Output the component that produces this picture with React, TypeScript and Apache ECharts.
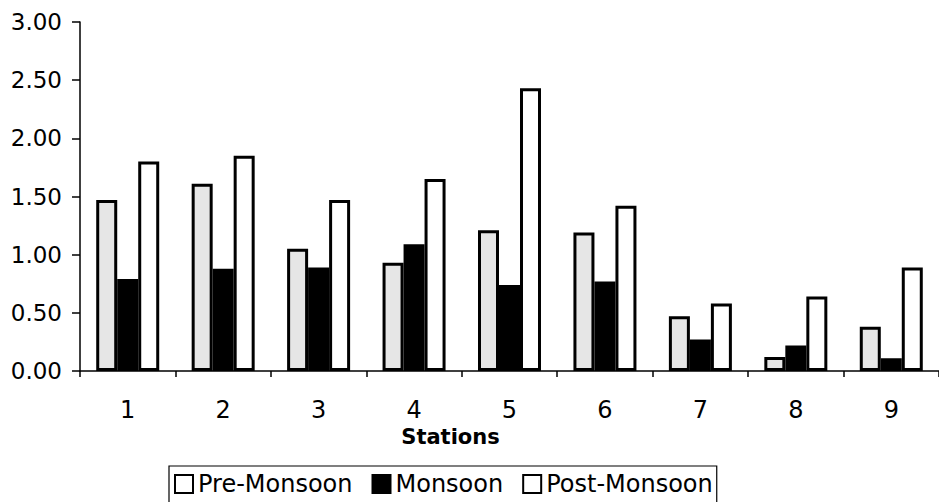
import React, { useEffect, useRef } from "react";
import * as echarts from "echarts";

const stations = ["1", "2", "3", "4", "5", "6", "7", "8", "9"];
const preMonsoon = [1.47, 1.61, 1.05, 0.93, 1.21, 1.19, 0.47, 0.12, 0.38];
const monsoon = [0.79, 0.88, 0.89, 1.09, 0.74, 0.77, 0.27, 0.22, 0.11];
const postMonsoon = [1.8, 1.85, 1.47, 1.65, 2.43, 1.42, 0.58, 0.64, 0.89];
const yTicks = { min: 0, max: 3, interval: 0.5 };

export default function App() {
  const ref = useRef<HTMLDivElement>(null);
  useEffect(() => {
    if (!ref.current) return;
    const chart = echarts.init(ref.current, undefined, { renderer: "svg" });
    const font = "'DejaVu Sans', Arial, sans-serif";
    const border = { borderColor: "#000", borderWidth: 3 };
    chart.setOption({
      animation: false,
      backgroundColor: "#fff",
      grid: { left: 80, top: 22, width: 868, height: 349 },
      legend: {
        left: 169,
        top: 466,
        padding: [6, 4, 8, 5],
        borderColor: "#000",
        borderWidth: 1.2,
        itemWidth: 18,
        itemHeight: 18,
        itemGap: 19,
        icon: "rect",
        textStyle: { fontFamily: font, fontSize: 24, color: "#000" },
        data: [
          { name: "Pre-Monsoon", itemStyle: { color: "#fff", borderColor: "#000", borderWidth: 2 } },
          { name: "Monsoon", itemStyle: { color: "#000", borderColor: "#000", borderWidth: 2 } },
          { name: "Post-Monsoon", itemStyle: { color: "#fff", borderColor: "#000", borderWidth: 2 } },
        ],
      },
      xAxis: {
        type: "category",
        data: stations,
        name: "Stations",
        nameLocation: "middle",
        nameGap: 44,
        nameTextStyle: { fontFamily: font, fontSize: 21, fontWeight: "bold", color: "#000", padding: [0, 118, 0, 0] },
        axisLine: { lineStyle: { color: "#000", width: 1.5 } },
        axisTick: { show: true, length: 6, lineStyle: { color: "#000", width: 1.5 } },
        axisLabel: { fontFamily: font, fontSize: 24, color: "#000", margin: 27 },
      },
      yAxis: {
        type: "value",
        min: yTicks.min,
        max: yTicks.max,
        interval: yTicks.interval,
        axisLine: { show: true, lineStyle: { color: "#000", width: 1.5 } },
        axisTick: { show: true, length: 8, lineStyle: { color: "#000", width: 1.5 } },
        splitLine: { show: false },
        axisLabel: {
          fontFamily: font,
          fontSize: 23,
          color: "#000",
          margin: 18,
          formatter: (v: number) => v.toFixed(2),
        },
      },
      series: [
        { name: "Pre-Monsoon", type: "bar", data: preMonsoon, barWidth: 21, barGap: "0%", itemStyle: { color: "#e6e6e6", ...border } },
        { name: "Monsoon", type: "bar", data: monsoon, barWidth: 21, barGap: "0%", itemStyle: { color: "#000", ...border } },
        { name: "Post-Monsoon", type: "bar", data: postMonsoon, barWidth: 21, barGap: "0%", itemStyle: { color: "#fff", ...border } },
      ],
    });
    return () => chart.dispose();
  }, []);
  return <div ref={ref} style={{ position: "fixed", left: 0, top: 0, width: 939, height: 502 }} />;
}
